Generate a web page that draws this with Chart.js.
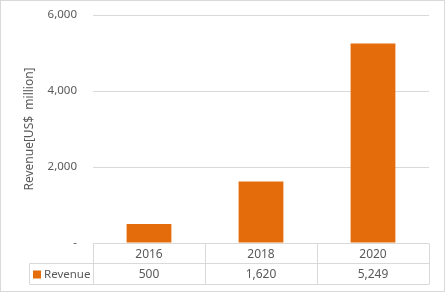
<!DOCTYPE html>
<html>
<head>
<meta charset="utf-8">
<script src="https://cdn.jsdelivr.net/npm/chart.js@4/dist/chart.umd.min.js"></script>
<style>
  html, body { margin: 0; padding: 0; background: #fff; }
  #wrap { width: 445px; height: 292px; }
</style>
</head>
<body>
<div id="wrap"><canvas id="revChart" width="445" height="292"></canvas></div>
<script>
'use strict';

//--------> Data <--------
const years = ['2016', '2018', '2020'];
const revenue = [500, 1620, 5249];
const seriesName = 'Revenue';
const yTicks = [0, 2000, 4000, 6000];

const barColor = '#E46C0A';
const textColor = '#595959';
const lineColor = '#D9D9D9';
const fontFamily = '"Noto Sans", "Open Sans", sans-serif';

function fmt (v) {
  return v === 0 ? '-' : v.toLocaleString('en-US');
}

//--------> Data table under the plot <--------
const dataTable = {
  id: 'dataTable',
  afterDraw (chart) {
    const ctx = chart.ctx;
    const area = chart.chartArea;
    const xs = chart.scales.x;
    const half = (area.right - area.left) / years.length / 2;
    const top = Math.round(area.bottom) + 0.5;
    const mid = top + 20;
    const bot = mid + 21;
    const legendLeft = 29.5;

    ctx.save();
    ctx.strokeStyle = lineColor;
    ctx.lineWidth = 1;
    ctx.beginPath();
    // horizontal lines
    ctx.moveTo(area.left, top); ctx.lineTo(area.right, top);
    ctx.moveTo(legendLeft, mid); ctx.lineTo(area.right, mid);
    ctx.moveTo(legendLeft, bot); ctx.lineTo(area.right, bot);
    // vertical lines
    ctx.moveTo(legendLeft, mid); ctx.lineTo(legendLeft, bot);
    for (let i = 0; i <= years.length; i++) {
      let x = Math.round(area.left + i * half * 2) + 0.5;
      ctx.moveTo(x, top); ctx.lineTo(x, bot);
    }
    ctx.stroke();

    // outer chart border
    ctx.strokeRect(0.5, 0.5, chart.width - 1, chart.height - 1);

    ctx.fillStyle = textColor;
    ctx.font = '12px ' + fontFamily;
    ctx.textAlign = 'center';
    ctx.textBaseline = 'middle';
    for (let i = 0; i < years.length; i++) {
      let cx = xs.getPixelForValue(i);
      ctx.fillText(years[i], cx, (top + mid) / 2 + 1);
      ctx.fillText(fmt(revenue[i]), cx, (mid + bot) / 2 + 1);
    }

    // legend key
    ctx.fillStyle = barColor;
    ctx.fillRect(33, mid + 7, 8, 8);
    ctx.fillStyle = textColor;
    ctx.textAlign = 'left';
    ctx.font = '11.5px ' + fontFamily;
    ctx.fillText(seriesName, 44, (mid + bot) / 2 + 1);
    ctx.restore();
  }
};

let ctx = document.getElementById('revChart').getContext('2d');
let revChart = new Chart(ctx, {
  type: 'bar',
  data: {
    labels: years,
    datasets: [{
      label: seriesName,
      data: revenue,
      backgroundColor: barColor,
      barPercentage: 0.4,
      categoryPercentage: 1
    }]
  },
  options: {
    responsive: false,
    animation: false,
    layout: { padding: { left: 0, right: 16, top: 15, bottom: 49 } },
    plugins: { legend: { display: false }, tooltip: { enabled: false } },
    scales: {
      x: { display: false },
      y: {
        min: 0,
        max: 6000,
        afterFit (scale) {
          scale.width = 93;
          scale.paddingTop = 0;
          scale.paddingBottom = 0;
        },
        afterBuildTicks (scale) { scale.ticks = yTicks.map(v => ({ value: v })); },
        grid: { color: lineColor, drawTicks: false },
        border: { display: false },
        ticks: {
          padding: 16,
          color: textColor,
          font: { family: fontFamily, size: 11.5 },
          callback: (v) => fmt(v)
        },
        title: {
          display: true,
          text: 'Revenue[US$  million]',
          color: textColor,
          font: { family: fontFamily, size: 12 },
          padding: { top: 22, bottom: 0 }
        }
      }
    }
  },
  plugins: [dataTable]
});
</script>
</body>
</html>
